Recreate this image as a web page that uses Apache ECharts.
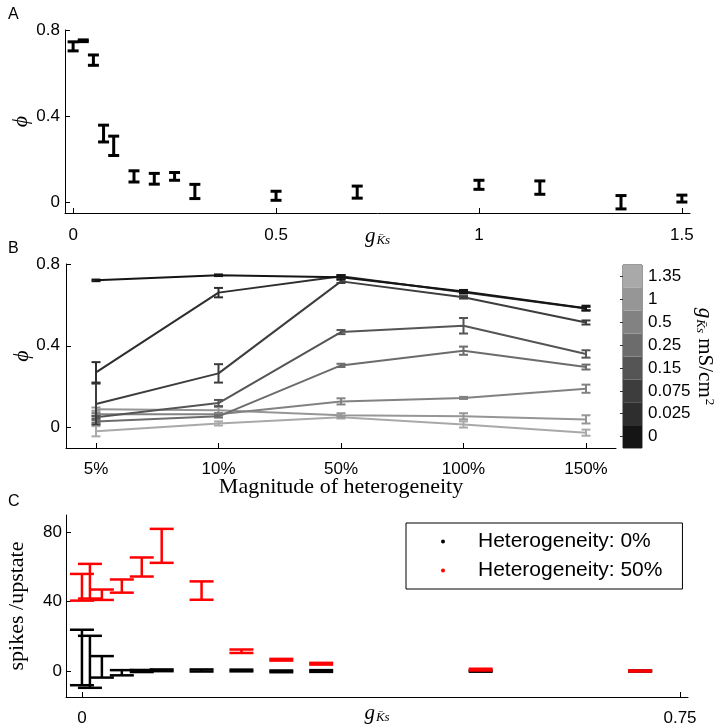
<!DOCTYPE html>
<html>
<head>
<meta charset="utf-8">
<script src="https://cdn.jsdelivr.net/npm/echarts@6/dist/echarts.min.js"></script>
<style>html,body{margin:0;padding:0;background:#fff}#c{width:718px;height:726px}</style>
</head>
<body>
<div id="c"></div>
<script>
// ---------- Panel A ----------
const gA   = [0, 0.025, 0.05, 0.075, 0.1, 0.15, 0.2, 0.25, 0.3, 0.5, 0.7, 1, 1.15, 1.35, 1.5];
const phiA = [0.724, 0.75, 0.66, 0.319, 0.262, 0.12, 0.109, 0.12, 0.05, 0.03, 0.047, 0.081, 0.068, 0.0, 0.017];
const errA = [0.021, 0.004, 0.024, 0.039, 0.045, 0.026, 0.025, 0.018, 0.033, 0.021, 0.028, 0.021, 0.031, 0.031, 0.016];
const ticksA_x = [0, 0.5, 1, 1.5];
const ticksA_y = [0, 0.4, 0.8];

// ---------- Panel B ----------
const hetLabels = ['5%', '10%', '50%', '100%', '150%'];
const gLevels = ['0', '0.025', '0.075', '0.15', '0.25', '0.5', '1', '1.35'];
const grays   = ['#151515', '#2e2e2e', '#3d3d3d', '#555555', '#6c6c6c', '#828282', '#969696', '#a9a9a9'];
const phiB_0     = [0.72, 0.745, 0.735, 0.665, 0.584];
const errB_0     = [0.004, 0.004, 0.01, 0.008, 0.012];
const phiB_0025  = [0.27, 0.66, 0.74, 0.662, 0.582];
const errB_0025  = [0.05, 0.023, 0.006, 0.006, 0.008];
const phiB_0075  = [0.115, 0.265, 0.715, 0.637, 0.514];
const errB_0075  = [0.1, 0.045, 0.008, 0.006, 0.01];
const phiB_015   = [0.05, 0.12, 0.467, 0.498, 0.36];
const errB_015   = [0.006, 0.015, 0.01, 0.038, 0.018];
const phiB_025   = [0.03, 0.055, 0.304, 0.376, 0.296];
const errB_025   = [0.006, 0.006, 0.008, 0.02, 0.012];
const phiB_05    = [0.065, 0.065, 0.128, 0.145, 0.19];
const errB_05    = [0.006, 0.006, 0.015, 0.005, 0.02];
const phiB_1     = [0.09, 0.085, 0.06, 0.055, 0.04];
const errB_1     = [0.008, 0.015, 0.01, 0.015, 0.02];
const phiB_135   = [-0.018, 0.02, 0.05, 0.015, -0.025];
const errB_135   = [0.025, 0.01, 0.006, 0.015, 0.015];
const ticksB_y = [0, 0.4, 0.8];

// ---------- Panel C ----------
const gC       = [0, 0.01, 0.025, 0.05, 0.075, 0.1, 0.15, 0.2, 0.25, 0.3, 0.5, 0.7];
const spk0     = [7.8, 5.3, 2.4, -1.0, 0.0, 0.4, 0.3, 0.3, -0.2, 0.0, 0.0, 0.0];
const errSpk0  = [16, 15, 6.2, 1.5, 0.6, 0.5, 0.6, 0.5, 0.5, 0.5, 0.4, 0.3];
const spk50    = [48.3, 51.8, 44.0, 49.0, 60.0, 72.2, 46.4, 11.4, 6.5, 4.2, 0.8, 0.0];
const errSpk50 = [7.7, 10.0, 3.0, 3.8, 5.5, 9.8, 5.3, 1.0, 0.5, 0.5, 0.5, 0.3];
const ticksC_x = [0, 0.75];
const ticksC_y = [0, 40, 80];

const SANS = 'Liberation Sans';
const SERIF = 'Liberation Serif';

function errBars(capPx, lw) {
  return function (params, api) {
    const x = api.value(0), y = api.value(1), e = api.value(2);
    const t = api.coord([x, y + e]);
    const b = api.coord([x, y - e]);
    const c = api.visual('color');
    const h = capPx / 2;
    const st = { stroke: c, lineWidth: lw };
    return {
      type: 'group',
      children: [
        { type: 'line', shape: { x1: t[0], y1: t[1], x2: b[0], y2: b[1] }, style: st },
        { type: 'line', shape: { x1: t[0] - h, y1: t[1], x2: t[0] + h, y2: t[1] }, style: st },
        { type: 'line', shape: { x1: b[0] - h, y1: b[1], x2: b[0] + h, y2: b[1] }, style: st }
      ]
    };
  };
}

function valAxis(gridIndex, min, max, ticks, extra) {
  return Object.assign({
    type: 'value', gridIndex, min, max, nameMoveOverlap: false,
    axisLine: { show: true, onZero: false, lineStyle: { color: '#000', width: 1 } },
    axisTick: { show: true, inside: true, length: 5, customValues: ticks, lineStyle: { color: '#000' } },
    axisLabel: { customValues: ticks, fontFamily: SANS, fontSize: 17, color: '#000' },
    splitLine: { show: false }
  }, extra || {});
}

const gRich = {
  g: { fontFamily: SERIF, fontStyle: 'italic', fontSize: 21, color: '#000' },
  s: { fontFamily: SERIF, fontStyle: 'italic', fontSize: 13, color: '#000', padding: [9, 0, 0, 1] }
};

const series = [];
// Panel A
series.push({
  type: 'custom', name: 'A', xAxisIndex: 0, yAxisIndex: 0,
  itemStyle: { color: '#000' },
  renderItem: errBars(11, 3),
  data: gA.map((g, i) => [g, phiA[i], errA[i]]),
  z: 5
});
// Panel B
const bSets = [
  [phiB_135, errB_135], [phiB_1, errB_1], [phiB_05, errB_05], [phiB_025, errB_025],
  [phiB_015, errB_015], [phiB_0075, errB_0075], [phiB_0025, errB_0025], [phiB_0, errB_0]
];
bSets.forEach((s, k) => {
  const col = grays[7 - k];
  series.push({
    type: 'line', xAxisIndex: 1, yAxisIndex: 1, symbol: 'none', silent: true,
    lineStyle: { color: col, width: 2 }, itemStyle: { color: col },
    data: s[0].map((v, i) => [i + 1, v]), z: 3 + k * 0.01
  });
  series.push({
    type: 'custom', xAxisIndex: 1, yAxisIndex: 1, itemStyle: { color: col },
    renderItem: errBars(9, 2),
    data: s[0].map((v, i) => [i + 1, v, s[1][i]]), z: 3 + k * 0.01
  });
});
// Panel C
series.push({
  type: 'custom', name: 'Heterogeneity: 0%', xAxisIndex: 2, yAxisIndex: 2,
  itemStyle: { color: '#000' }, renderItem: errBars(24, 2.5),
  data: gC.map((g, i) => [g, spk0[i], errSpk0[i]]), z: 4
});
series.push({
  type: 'custom', name: 'Heterogeneity: 50%', xAxisIndex: 2, yAxisIndex: 2,
  itemStyle: { color: '#ff0000' }, renderItem: errBars(24, 2.5),
  data: gC.map((g, i) => [g, spk50[i], errSpk50[i]]), z: 5
});
// Colorbar
series.push({
  type: 'bar', xAxisIndex: 3, yAxisIndex: 3, barCategoryGap: '0%', silent: true,
  data: gLevels.map((l, i) => ({ value: 1, itemStyle: { color: grays[i] } }))
});

const option = {
  animation: false,
  backgroundColor: '#fff',
  title: [
    { text: 'A', left: 3, top: 2, textStyle: { fontFamily: SANS, fontSize: 16, fontWeight: 'normal', color: '#000' } },
    { text: 'B', left: 3, top: 236, textStyle: { fontFamily: SANS, fontSize: 16, fontWeight: 'normal', color: '#000' } },
    { text: 'C', left: 3, top: 489, textStyle: { fontFamily: SANS, fontSize: 16, fontWeight: 'normal', color: '#000' } }
  ],
  legend: {
    data: ['Heterogeneity: 0%', 'Heterogeneity: 50%'],
    orient: 'vertical', left: 406, top: 523,
    icon: 'circle', itemWidth: 4, itemHeight: 4, itemGap: 8,
    padding: [8, 20, 8, 35],
    borderColor: '#000', borderWidth: 1, backgroundColor: '#fff',
    textStyle: { fontFamily: SANS, fontSize: 21, color: '#000', padding: [0, 0, 0, 28] },
    selectedMode: false
  },
  grid: [
    { left: 65, top: 30, width: 625, height: 183, outerBoundsMode: 'none' },
    { left: 66, top: 264, width: 550, height: 184, outerBoundsMode: 'none' },
    { left: 66, top: 515, width: 622, height: 182, outerBoundsMode: 'none' },
    { left: 623, top: 265, width: 19, height: 183, outerBoundsMode: 'none', show: true, borderColor: '#333', borderWidth: 1, backgroundColor: 'transparent' }
  ],
  xAxis: [
    valAxis(0, -0.02, 1.52, ticksA_x, {
      name: '{g|g}{s|K̄s}', nameLocation: 'middle', nameGap: 12,
      nameTextStyle: { rich: gRich }, axisLabel: { customValues: ticksA_x, fontFamily: SANS, fontSize: 17, color: '#000', margin: 14 }
    }),
    valAxis(1, 0.755, 5.245, [1, 2, 3, 4, 5], {
      name: 'Magnitude of heterogeneity', nameLocation: 'middle', nameGap: 28,
      nameTextStyle: { fontFamily: SERIF, fontSize: 22, color: '#000' },
      axisLabel: { customValues: [1, 2, 3, 4, 5], fontFamily: SANS, fontSize: 17, color: '#000', margin: 13,
        formatter: v => hetLabels[Math.round(v) - 1] }
    }),
    valAxis(2, -0.02, 0.76, ticksC_x, {
      name: '{g|g}{s|K̄s}', nameLocation: 'middle', nameGap: 5,
      nameTextStyle: { rich: gRich }, axisLabel: { customValues: ticksC_x, fontFamily: SANS, fontSize: 17, color: '#000', margin: 13 }
    }),
    { type: 'value', gridIndex: 3, min: 0, max: 1, show: false }
  ],
  yAxis: [
    valAxis(0, -0.05, 0.8, ticksA_y, {
      name: 'ϕ', nameLocation: 'middle', nameGap: 33, nameRotate: 90,
      nameTextStyle: { fontFamily: SERIF, fontStyle: 'italic', fontSize: 22, color: '#000' },
      axisLabel: { customValues: ticksA_y, fontFamily: SANS, fontSize: 17, color: '#000', margin: 5 }
    }),
    valAxis(1, -0.1, 0.8, ticksB_y, {
      name: 'ϕ', nameLocation: 'middle', nameGap: 33, nameRotate: 90,
      nameTextStyle: { fontFamily: SERIF, fontStyle: 'italic', fontSize: 22, color: '#000' },
      axisLabel: { customValues: ticksB_y, fontFamily: SANS, fontSize: 17, color: '#000', margin: 6 }
    }),
    valAxis(2, -15, 90, ticksC_y, {
      name: 'spikes /upstate', nameLocation: 'middle', nameGap: 38, nameRotate: 90,
      nameTextStyle: { fontFamily: SERIF, fontSize: 22, color: '#000' },
      axisLabel: { customValues: ticksC_y, fontFamily: SANS, fontSize: 17, color: '#000', margin: 4 }
    }),
    {
      type: 'category', gridIndex: 3, data: gLevels, position: 'right', nameMoveOverlap: false,
      axisLine: { show: false },
      axisTick: { show: true, inside: true, length: 3, alignWithLabel: true, lineStyle: { color: '#333' } },
      axisLabel: { fontFamily: SANS, fontSize: 17, color: '#000', margin: 6 },
      name: '{g|g}{s|K̄s}{r| mS/cm}{p|2}', nameLocation: 'middle', nameGap: 52, nameRotate: -90,
      nameTextStyle: { rich: {
        g: { fontFamily: SERIF, fontStyle: 'italic', fontSize: 21, color: '#000' },
        s: { fontFamily: SERIF, fontStyle: 'italic', fontSize: 13, color: '#000', padding: [9, 0, 0, 1] },
        r: { fontFamily: SERIF, fontSize: 21, color: '#000' },
        p: { fontFamily: SERIF, fontSize: 13, color: '#000', padding: [0, 0, 9, 1] }
      } }
    }
  ],
  series
};

const chart = echarts.init(document.getElementById('c'), null, { renderer: 'canvas' });
chart.setOption(option);
</script>
</body>
</html>
